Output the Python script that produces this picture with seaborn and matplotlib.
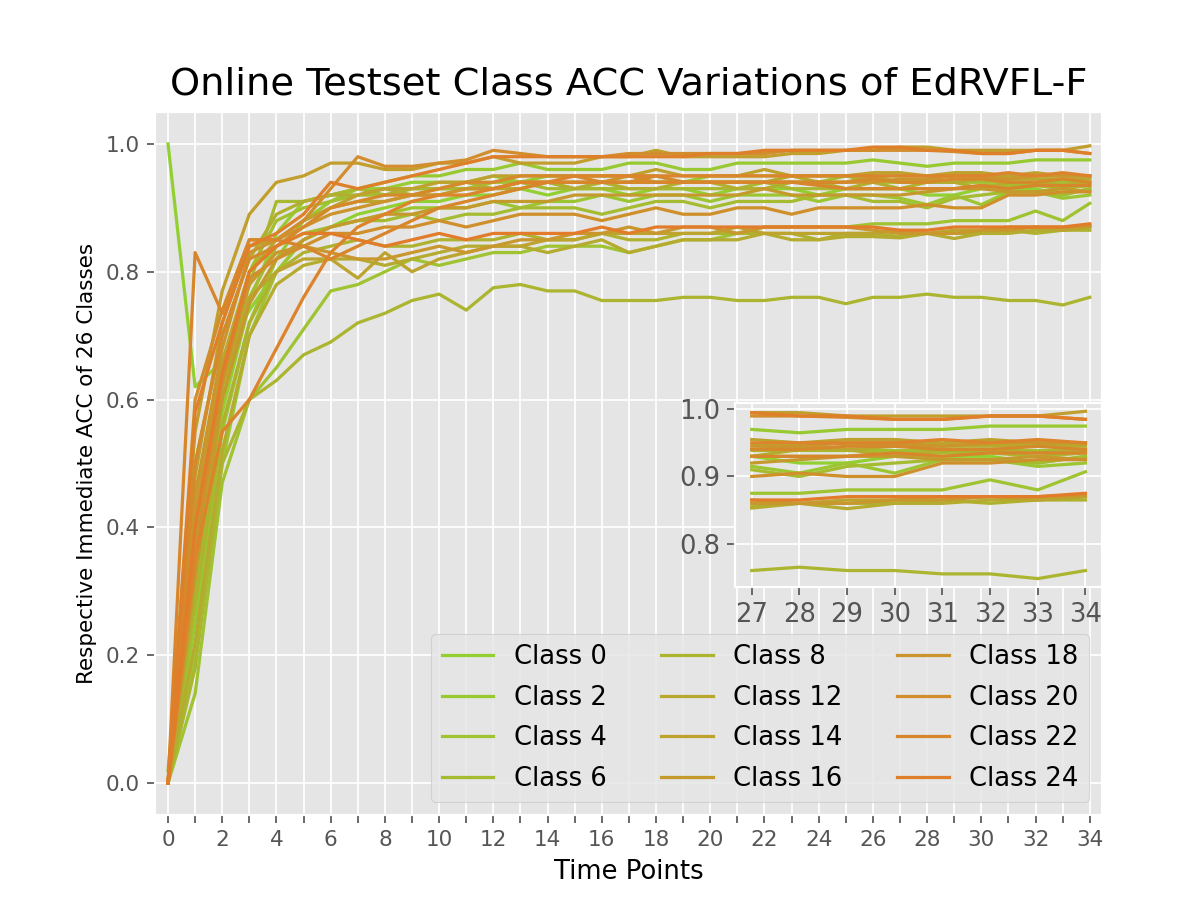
import numpy as np
import pandas as pd
import matplotlib
matplotlib.use("Agg")
import matplotlib.pyplot as plt
import seaborn as sns

# time points 0..34
time_points = list(range(35))

# immediate ACC per class
c0 = [1.0, 0.62, 0.66, 0.74, 0.80, 0.85, 0.87, 0.89, 0.90, 0.91, 0.91, 0.92, 0.92, 0.93, 0.92, 0.93, 0.93, 0.92, 0.93, 0.93, 0.92, 0.93, 0.93, 0.93, 0.92, 0.93, 0.93, 0.93, 0.92, 0.92, 0.93, 0.93, 0.93, 0.92, 0.93]
c1 = [0.0, 0.30, 0.58, 0.75, 0.86, 0.91, 0.92, 0.93, 0.93, 0.94, 0.94, 0.94, 0.95, 0.94, 0.95, 0.95, 0.95, 0.95, 0.95, 0.94, 0.95, 0.95, 0.95, 0.95, 0.95, 0.95, 0.95, 0.95, 0.95, 0.95, 0.95, 0.95, 0.95, 0.95, 0.95]
c2 = [0.0, 0.25, 0.55, 0.72, 0.82, 0.88, 0.91, 0.93, 0.94, 0.95, 0.95, 0.96, 0.96, 0.97, 0.96, 0.96, 0.96, 0.97, 0.97, 0.96, 0.96, 0.97, 0.97, 0.97, 0.97, 0.97, 0.975, 0.97, 0.965, 0.97, 0.97, 0.97, 0.975, 0.975, 0.975]
c3 = [0.0, 0.20, 0.50, 0.70, 0.80, 0.85, 0.87, 0.88, 0.89, 0.90, 0.90, 0.90, 0.91, 0.90, 0.91, 0.91, 0.92, 0.91, 0.92, 0.92, 0.91, 0.92, 0.92, 0.92, 0.91, 0.92, 0.92, 0.915, 0.905, 0.92, 0.905, 0.925, 0.925, 0.915, 0.92]
c4 = [0.0, 0.14, 0.47, 0.60, 0.65, 0.71, 0.77, 0.78, 0.80, 0.82, 0.81, 0.82, 0.83, 0.83, 0.84, 0.84, 0.84, 0.83, 0.84, 0.85, 0.85, 0.86, 0.87, 0.87, 0.87, 0.87, 0.875, 0.875, 0.875, 0.88, 0.88, 0.88, 0.895, 0.88, 0.907]
c5 = [0.02, 0.45, 0.65, 0.80, 0.88, 0.90, 0.91, 0.92, 0.92, 0.93, 0.93, 0.93, 0.94, 0.94, 0.94, 0.93, 0.94, 0.94, 0.94, 0.94, 0.94, 0.94, 0.94, 0.94, 0.94, 0.95, 0.94, 0.94, 0.94, 0.94, 0.94, 0.94, 0.94, 0.94, 0.94]
c6 = [0.0, 0.35, 0.60, 0.76, 0.84, 0.86, 0.87, 0.88, 0.88, 0.89, 0.88, 0.89, 0.89, 0.90, 0.90, 0.90, 0.89, 0.90, 0.91, 0.91, 0.90, 0.91, 0.91, 0.91, 0.92, 0.92, 0.91, 0.91, 0.90, 0.915, 0.92, 0.925, 0.925, 0.92, 0.93]
c7 = [0.0, 0.40, 0.62, 0.78, 0.91, 0.91, 0.92, 0.93, 0.92, 0.93, 0.93, 0.93, 0.93, 0.94, 0.93, 0.93, 0.93, 0.93, 0.93, 0.93, 0.93, 0.93, 0.94, 0.93, 0.93, 0.93, 0.93, 0.93, 0.93, 0.93, 0.935, 0.935, 0.935, 0.93, 0.935]
c8 = [0.0, 0.18, 0.50, 0.60, 0.63, 0.67, 0.69, 0.72, 0.735, 0.755, 0.765, 0.74, 0.775, 0.78, 0.77, 0.77, 0.755, 0.755, 0.755, 0.76, 0.76, 0.755, 0.755, 0.76, 0.76, 0.75, 0.76, 0.76, 0.765, 0.76, 0.76, 0.755, 0.755, 0.748, 0.76]
c9 = [0.0, 0.28, 0.56, 0.72, 0.80, 0.83, 0.84, 0.85, 0.84, 0.84, 0.85, 0.85, 0.85, 0.86, 0.85, 0.85, 0.86, 0.85, 0.85, 0.86, 0.86, 0.86, 0.86, 0.86, 0.85, 0.86, 0.86, 0.855, 0.86, 0.86, 0.86, 0.865, 0.86, 0.865, 0.865]
c10 = [0.0, 0.50, 0.70, 0.82, 0.89, 0.91, 0.92, 0.92, 0.93, 0.92, 0.93, 0.94, 0.93, 0.94, 0.94, 0.93, 0.94, 0.93, 0.93, 0.94, 0.94, 0.93, 0.93, 0.94, 0.94, 0.93, 0.94, 0.93, 0.94, 0.94, 0.93, 0.94, 0.94, 0.935, 0.94]
c11 = [0.0, 0.22, 0.52, 0.70, 0.78, 0.81, 0.82, 0.82, 0.81, 0.82, 0.83, 0.84, 0.84, 0.84, 0.83, 0.84, 0.85, 0.83, 0.84, 0.85, 0.85, 0.85, 0.86, 0.85, 0.85, 0.855, 0.855, 0.853, 0.86, 0.852, 0.86, 0.86, 0.865, 0.865, 0.87]
c12 = [0.0, 0.42, 0.66, 0.80, 0.85, 0.88, 0.90, 0.91, 0.91, 0.92, 0.92, 0.93, 0.93, 0.93, 0.94, 0.94, 0.94, 0.94, 0.94, 0.94, 0.94, 0.94, 0.94, 0.95, 0.94, 0.94, 0.95, 0.94, 0.945, 0.94, 0.945, 0.945, 0.945, 0.945, 0.945]
c13 = [0.0, 0.38, 0.62, 0.76, 0.80, 0.82, 0.82, 0.79, 0.83, 0.80, 0.82, 0.83, 0.84, 0.84, 0.85, 0.85, 0.86, 0.86, 0.86, 0.86, 0.86, 0.87, 0.86, 0.86, 0.86, 0.86, 0.86, 0.865, 0.86, 0.865, 0.865, 0.87, 0.87, 0.865, 0.87]
c14 = [0.0, 0.48, 0.72, 0.84, 0.85, 0.88, 0.90, 0.92, 0.93, 0.93, 0.94, 0.94, 0.95, 0.95, 0.95, 0.95, 0.95, 0.95, 0.96, 0.95, 0.95, 0.95, 0.96, 0.95, 0.95, 0.95, 0.955, 0.955, 0.95, 0.955, 0.955, 0.95, 0.955, 0.95, 0.95]
c15 = [0.0, 0.55, 0.77, 0.89, 0.94, 0.95, 0.97, 0.97, 0.96, 0.96, 0.97, 0.97, 0.98, 0.97, 0.97, 0.97, 0.98, 0.98, 0.99, 0.98, 0.98, 0.98, 0.98, 0.985, 0.985, 0.99, 0.99, 0.995, 0.995, 0.99, 0.99, 0.99, 0.99, 0.99, 0.997]
c16 = [0.0, 0.32, 0.60, 0.75, 0.82, 0.85, 0.87, 0.88, 0.89, 0.89, 0.90, 0.90, 0.91, 0.91, 0.91, 0.92, 0.92, 0.92, 0.92, 0.92, 0.92, 0.92, 0.93, 0.92, 0.92, 0.92, 0.92, 0.92, 0.925, 0.93, 0.93, 0.925, 0.925, 0.93, 0.925]
c17 = [0.0, 0.42, 0.65, 0.78, 0.83, 0.84, 0.83, 0.82, 0.82, 0.83, 0.84, 0.83, 0.84, 0.85, 0.85, 0.86, 0.86, 0.87, 0.86, 0.87, 0.87, 0.86, 0.87, 0.87, 0.87, 0.87, 0.865, 0.86, 0.86, 0.86, 0.865, 0.865, 0.87, 0.87, 0.872]
c18 = [0.0, 0.45, 0.68, 0.83, 0.85, 0.87, 0.89, 0.90, 0.91, 0.92, 0.92, 0.93, 0.93, 0.94, 0.94, 0.94, 0.94, 0.95, 0.94, 0.94, 0.94, 0.94, 0.94, 0.94, 0.94, 0.94, 0.94, 0.945, 0.945, 0.95, 0.95, 0.945, 0.95, 0.95, 0.95]
c19 = [0.0, 0.36, 0.63, 0.79, 0.82, 0.84, 0.86, 0.86, 0.87, 0.87, 0.88, 0.87, 0.88, 0.89, 0.89, 0.89, 0.88, 0.89, 0.90, 0.89, 0.89, 0.90, 0.90, 0.89, 0.90, 0.90, 0.90, 0.90, 0.905, 0.90, 0.90, 0.92, 0.92, 0.925, 0.925]
c20 = [0.0, 0.60, 0.74, 0.85, 0.85, 0.88, 0.93, 0.98, 0.965, 0.965, 0.97, 0.975, 0.99, 0.985, 0.98, 0.98, 0.98, 0.985, 0.985, 0.985, 0.985, 0.985, 0.985, 0.99, 0.99, 0.99, 0.99, 0.99, 0.99, 0.988, 0.985, 0.985, 0.99, 0.99, 0.985]
c21 = [0.0, 0.50, 0.70, 0.82, 0.84, 0.87, 0.90, 0.91, 0.92, 0.92, 0.93, 0.94, 0.94, 0.95, 0.95, 0.95, 0.94, 0.94, 0.95, 0.94, 0.94, 0.94, 0.94, 0.94, 0.94, 0.94, 0.945, 0.94, 0.94, 0.945, 0.945, 0.94, 0.94, 0.945, 0.94]
c22 = [0.0, 0.83, 0.735, 0.85, 0.85, 0.84, 0.82, 0.84, 0.86, 0.88, 0.90, 0.91, 0.92, 0.93, 0.94, 0.94, 0.94, 0.94, 0.94, 0.94, 0.94, 0.94, 0.94, 0.94, 0.935, 0.93, 0.93, 0.93, 0.93, 0.93, 0.935, 0.93, 0.935, 0.935, 0.935]
c23 = [0.0, 0.35, 0.55, 0.60, 0.68, 0.76, 0.83, 0.87, 0.89, 0.91, 0.92, 0.92, 0.93, 0.94, 0.94, 0.95, 0.95, 0.95, 0.95, 0.95, 0.95, 0.95, 0.95, 0.95, 0.95, 0.95, 0.95, 0.95, 0.95, 0.95, 0.95, 0.955, 0.95, 0.955, 0.95]
c24 = [0.0, 0.58, 0.72, 0.84, 0.86, 0.89, 0.94, 0.93, 0.94, 0.95, 0.96, 0.97, 0.98, 0.98, 0.98, 0.98, 0.98, 0.98, 0.98, 0.98, 0.985, 0.985, 0.99, 0.99, 0.99, 0.99, 0.995, 0.995, 0.99, 0.99, 0.985, 0.985, 0.99, 0.99, 0.985]
c25 = [0.0, 0.40, 0.64, 0.80, 0.84, 0.86, 0.86, 0.85, 0.84, 0.85, 0.86, 0.85, 0.86, 0.86, 0.86, 0.86, 0.87, 0.86, 0.87, 0.87, 0.87, 0.87, 0.87, 0.87, 0.87, 0.87, 0.87, 0.865, 0.865, 0.87, 0.87, 0.87, 0.87, 0.87, 0.875]

class_acc = [c0, c1, c2, c3, c4, c5, c6, c7, c8, c9, c10, c11, c12,
             c13, c14, c15, c16, c17, c18, c19, c20, c21, c22, c23, c24, c25]
legend_classes = [0, 2, 4, 6, 8, 12, 14, 16, 18, 20, 22, 24]

n_cls = len(class_acc)
rows = []
for k, vals in enumerate(class_acc):
    for t, v in zip(time_points, vals):
        rows.append((k, t, v))
df = pd.DataFrame(rows, columns=["cls", "t", "acc"])

# green -> orange gradient over the classes
c_start = np.array([146, 208, 50]) / 255.0
c_end = np.array([226, 124, 42]) / 255.0
colors = [tuple(c_start + (c_end - c_start) * k / (n_cls - 1)) for k in range(n_cls)]

plt.style.use("ggplot")
fig = plt.figure(figsize=(1196 / 155, 917 / 155), dpi=155)
ax = fig.add_axes([0.1296, 0.1112, 0.7918, 0.7667])

for k in range(n_cls):
    sub = df[df["cls"] == k]
    lab = f"Class {k}" if k in legend_classes else None
    sns.lineplot(data=sub, x="t", y="acc", color=colors[k], label=lab,
                 linewidth=1.5, ax=ax, legend=False)

ax.set_xlim(-0.48, 34.45)
ax.set_xticks(time_points)
ax.set_xticklabels([str(t) if t % 2 == 0 else "" for t in time_points])
ax.tick_params(labelsize=10)
ax.set_title("Online Testset Class ACC Variations of EdRVFL-F", fontsize=17.8,
             color="black", pad=8)
ax.set_xlabel("Time Points", fontsize=12, color="black")
ax.set_ylabel("Respective Immediate ACC of 26 Classes", fontsize=10, color="black")

handles, labels = ax.get_legend_handles_labels()
ax.legend(handles, labels, ncol=3, loc="lower right", fontsize=12,
          labelspacing=0.56, columnspacing=2.1)

# zoomed inset for the last time points
axins = fig.add_axes([0.6146, 0.3599, 0.3069, 0.2007])
tail = df[df["t"] >= 27]
for k in range(n_cls):
    sub = tail[tail["cls"] == k]
    sns.lineplot(data=sub, x="t", y="acc", color=colors[k], linewidth=1.5,
                 ax=axins, legend=False)
axins.set_xticks(time_points[27:])
axins.set_yticks([0.8, 0.9, 1.0])
axins.tick_params(labelsize=12)
axins.set_xlabel("")
axins.set_ylabel("")

fig.savefig("out.png", dpi=155)
